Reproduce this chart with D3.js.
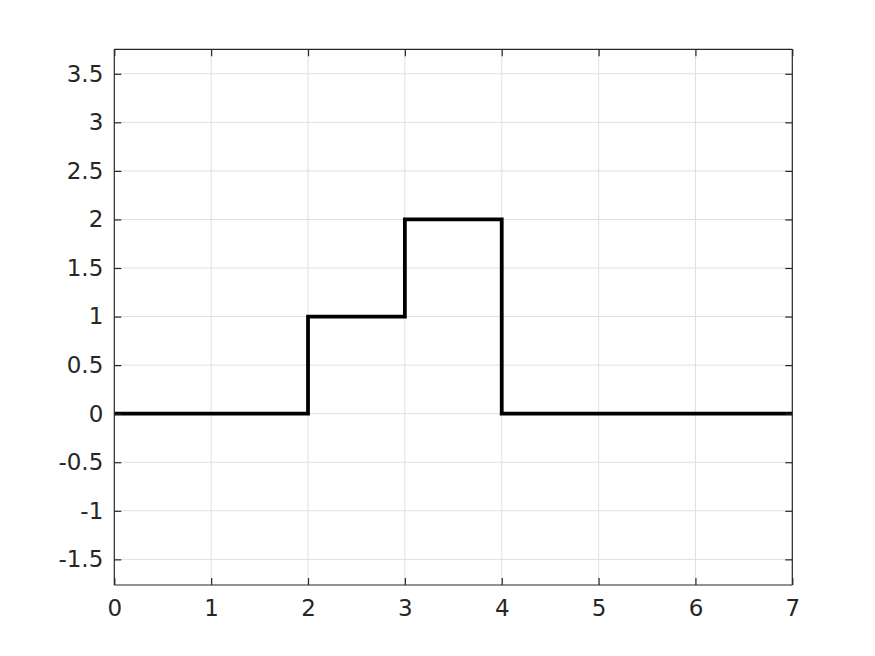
<!DOCTYPE html>
<html lang="en">
<head>
  <meta charset="UTF-8">
  <title>Stairs plot</title>
  <script src="https://d3js.org/d3.v7.min.js"></script>
  <style>
    body {
      margin: 0;
      background: #ffffff;
    }
    svg {
      display: block;
      font-family: "DejaVu Sans", sans-serif;
    }
    .grid line {
      stroke: #dfdfdf;
      stroke-width: 1;
    }
    .tick-label {
      font-size: 23px;
      fill: #262626;
    }
  </style>
</head>
<body>
  <svg width="875" height="656"></svg>

  <script>
    // step data: value holds from t[i] to t[i+1]
    const stepT = [0, 2, 3, 4, 7];
    const stepV = [0, 1, 2, 0, 0];

    const xTicks = [0, 1, 2, 3, 4, 5, 6, 7];
    const yTicks = [-1.5, -1, -0.5, 0, 0.5, 1, 1.5, 2, 2.5, 3, 3.5];

    const plotL = 114.3, plotR = 792.3, plotT = 49.3, plotB = 585;

    const svg = d3.select("svg");

    const x = d3.scaleLinear().domain([0, 7]).range([plotL, plotR]);
    const y = d3.scaleLinear().domain([-1.764, 3.752]).range([plotB, plotT]);

    // grid
    const grid = svg.append("g").attr("class", "grid");
    grid.selectAll("line.gx")
      .data(xTicks.slice(1, -1))
      .enter().append("line")
      .attr("x1", d => x(d)).attr("x2", d => x(d))
      .attr("y1", plotT).attr("y2", plotB);
    grid.selectAll("line.gy")
      .data(yTicks)
      .enter().append("line")
      .attr("x1", plotL).attr("x2", plotR)
      .attr("y1", d => y(d)).attr("y2", d => y(d));

    // step line
    const pts = stepT.map((t, i) => [t, stepV[i]]);
    const line = d3.line()
      .x(d => x(d[0]))
      .y(d => y(d[1]))
      .curve(d3.curveStepAfter);

    svg.append("path")
      .datum(pts)
      .attr("fill", "none")
      .attr("stroke", "#000000")
      .attr("stroke-width", 3.8)
      .attr("d", line);

    // axes, ticks inward on all four sides
    const tickLen = 7;
    const axisColor = "#262626";

    const bottomAxis = d3.axisBottom(x).tickValues(xTicks).tickSize(-tickLen).tickPadding(15)
      .tickFormat(d3.format("d"));
    const topAxis = d3.axisTop(x).tickValues(xTicks).tickSize(-tickLen).tickFormat("");
    const leftAxis = d3.axisLeft(y).tickValues(yTicks).tickSize(-tickLen).tickPadding(11)
      .tickFormat(d => String(d));
    const rightAxis = d3.axisRight(y).tickValues(yTicks).tickSize(-tickLen).tickFormat("");

    function styleAxis(g) {
      g.attr("font-family", null).attr("font-size", null);
      g.select(".domain").attr("stroke", axisColor).attr("stroke-width", 1.2);
      g.selectAll(".tick line").attr("stroke", axisColor).attr("stroke-width", 1.2);
      g.selectAll(".tick text").attr("class", "tick-label").attr("fill", null);
    }

    svg.append("g").attr("transform", `translate(0,${plotB})`).call(bottomAxis).call(styleAxis)
      .call(g => g.select(".domain").attr("d", `M${plotL},0H${plotR}`));
    svg.append("g").attr("transform", `translate(0,${plotT})`).call(topAxis).call(styleAxis)
      .call(g => g.select(".domain").attr("d", `M${plotL},0H${plotR}`));
    svg.append("g").attr("transform", `translate(${plotL},0)`).call(leftAxis).call(styleAxis)
      .call(g => g.select(".domain").attr("d", `M0,${plotT}V${plotB}`));
    svg.append("g").attr("transform", `translate(${plotR},0)`).call(rightAxis).call(styleAxis)
      .call(g => g.select(".domain").attr("d", `M0,${plotT}V${plotB}`));
  </script>
</body>
</html>
